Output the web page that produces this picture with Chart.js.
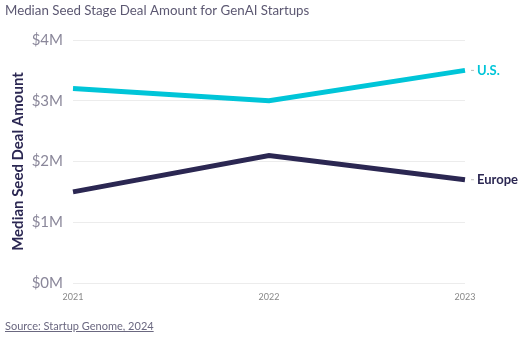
<!DOCTYPE html>
<html><head><meta charset="utf-8">
<script src="https://cdn.jsdelivr.net/npm/chart.js@4/dist/chart.umd.min.js"></script>
<style>
html,body{margin:0;padding:0;background:#fff;}
#wrap{position:relative;width:525px;height:339px;}
#src{position:absolute;left:5px;top:319px;font:11px Lato, "Noto Sans", sans-serif;color:#6b6880;text-decoration:underline;}
</style></head>
<body><div id="wrap"><canvas id="c" width="525" height="339"></canvas><div id="src">Source: Startup Genome, 2024</div></div>
<script>
const years = ['2021','2022','2023'];
const usValues = [3.2, 3.0, 3.5];
const europeValues = [1.5, 2.1, 1.7];
const yTicks = [0,1,2,3,4];
const seriesNames = ['U.S.','Europe'];

const endLabels = {
  id:'endLabels',
  afterDatasetsDraw(chart){
    const ctx = chart.ctx;
    chart.data.datasets.forEach((ds,i)=>{
      const meta = chart.getDatasetMeta(i);
      const p = meta.data[meta.data.length-1];
      ctx.save();
      ctx.strokeStyle = '#bbb'; ctx.lineWidth = 1;
      ctx.beginPath(); ctx.moveTo(p.x+6,p.y); ctx.lineTo(p.x+9,p.y); ctx.stroke();
      ctx.fillStyle = ds.borderColor;
      ctx.font = 'bold 13px Lato, "Noto Sans", sans-serif';
      ctx.textBaseline='middle';
      ctx.fillText(ds.label, p.x+12, p.y);
      ctx.restore();
    });
    ctx.save();
    ctx.fillStyle='#5c5872';
    ctx.font='13.3px Lato, "Noto Sans", sans-serif';
    ctx.textBaseline='middle';
    ctx.fillText('Median Seed Stage Deal Amount for GenAI Startups',5,11);
    ctx.restore();
  }
};

new Chart(document.getElementById('c'),{
  type:'line',
  data:{labels:years,datasets:[
    {label:seriesNames[0],data:usValues,borderColor:'#00c5d8',borderWidth:5,pointRadius:0,tension:0},
    {label:seriesNames[1],data:europeValues,borderColor:'#2b2752',borderWidth:5,pointRadius:0,tension:0}
  ]},
  options:{
    responsive:false,animation:false,
    layout:{padding:{top:40,right:60,bottom:36,left:0}},
    plugins:{legend:{display:false},tooltip:{enabled:false}},
    scales:{
      x:{offset:false,grid:{display:false},border:{display:false},
         ticks:{color:'#888',font:{size:9,family:'Lato, "Noto Sans", sans-serif'},padding:1,maxRotation:0},
         afterFit(s){s.height=20;}},
      y:{min:0,max:4,afterBuildTicks(s){s.ticks=yTicks.map(v=>({value:v}));},
         grid:{color:'#ececec',drawTicks:false},border:{display:false},
         ticks:{color:'#8a879a',font:{size:15,family:'Lato, "Noto Sans", sans-serif'},padding:10,callback:v=>'$'+v+'M'},
         title:{display:true,text:'Median Seed Deal Amount',color:'#2b2752',font:{size:15,weight:'bold',family:'Lato, "Noto Sans", sans-serif'},padding:{top:9,bottom:0}},
         afterFit(s){s.width=73;}}
    }
  },
  plugins:[endLabels]
});
</script></body></html>
